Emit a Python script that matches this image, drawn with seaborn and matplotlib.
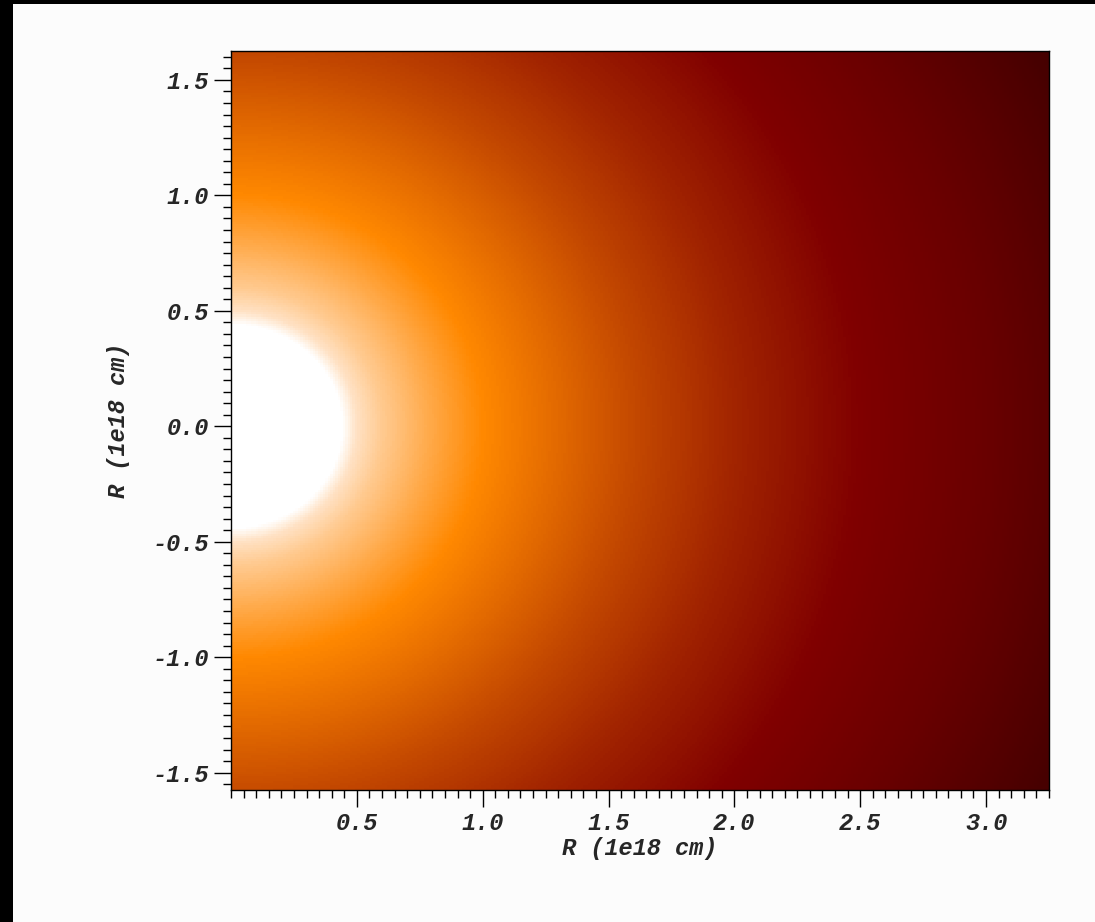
import numpy as np
import pandas as pd
import matplotlib
matplotlib.use("Agg")
import matplotlib.pyplot as plt
import seaborn as sns
from matplotlib.colors import LinearSegmentedColormap
from matplotlib.ticker import FixedLocator, MultipleLocator, FormatStrFormatter
from matplotlib.patches import Rectangle

# ---- data ----
# radial brightness profile (radius in 1e18 cm -> colour level)
profile_radius = [0.00, 0.44, 0.50, 0.60, 0.80, 1.00, 1.30, 1.60, 2.00, 2.50, 3.00, 3.70]
profile_level = [1.20, 1.00, 0.93, 0.86, 0.76, 0.667, 0.59, 0.51, 0.42, 0.33, 0.22, 0.02]
# colour map nodes
cmap_positions = [0.0, 0.33, 0.667, 0.93, 1.0]
cmap_colors = ["#3c0000", "#800000", "#ff8800", "#ffe1c3", "#ffffff"]
# axis ranges and ticks
x_range = [0.0, 3.25]
y_range = [-1.575, 1.625]
x_ticks = [0.5, 1.0, 1.5, 2.0, 2.5, 3.0]
y_ticks = [-1.5, -1.0, -0.5, 0.0, 0.5, 1.0, 1.5]
axis_label = "R (1e18 cm)"

# ---- build the field on a grid ----
nx, ny = 330, 320
x_edges = np.linspace(x_range[0], x_range[1], nx + 1)
y_edges = np.linspace(y_range[0], y_range[1], ny + 1)
xc = 0.5 * (x_edges[:-1] + x_edges[1:])
yc = 0.5 * (y_edges[:-1] + y_edges[1:])
XX, YY = np.meshgrid(xc, yc)
RR = np.hypot(XX, YY)
level = np.interp(RR, profile_radius, profile_level)
df = pd.DataFrame({"x": XX.ravel(), "y": YY.ravel(), "level": level.ravel()})

cmap = LinearSegmentedColormap.from_list("glow", list(zip(cmap_positions, cmap_colors)))

# ---- style ----
sns.set_style("ticks")
plt.rcParams["font.family"] = ["Liberation Mono", "DejaVu Sans Mono"]
plt.rcParams["font.weight"] = "bold"
plt.rcParams["font.style"] = "italic"
plt.rcParams["axes.unicode_minus"] = False

W, H = 1095, 922
fig = plt.figure(figsize=(W / 100, H / 100), dpi=100, facecolor="#fcfcfc")
ax = fig.add_axes([231 / W, 1 - 790 / H, (1049 - 231) / W, (790 - 51) / H])

sns.histplot(data=df, x="x", y="y", weights="level", bins=[x_edges, y_edges],
             cmap=cmap, vmin=0.0, vmax=1.0, thresh=None, cbar=False, ax=ax)

ax.set_xlim(x_range)
ax.set_ylim(y_range)

ax.xaxis.set_major_locator(FixedLocator(x_ticks))
ax.yaxis.set_major_locator(FixedLocator(y_ticks))
ax.xaxis.set_minor_locator(MultipleLocator(0.05))
ax.yaxis.set_minor_locator(MultipleLocator(0.05))
ax.xaxis.set_major_formatter(FormatStrFormatter("%.1f"))
ax.yaxis.set_major_formatter(FormatStrFormatter("%.1f"))

ax.tick_params(which="major", direction="out", length=12, width=1.0, color="black",
               labelsize=17, pad=4)
ax.tick_params(which="minor", direction="out", length=6, width=1.0, color="black")
for lab in ax.get_xticklabels() + ax.get_yticklabels():
    lab.set_fontweight("bold")
    lab.set_fontstyle("italic")

ax.set_xlabel(axis_label, fontsize=17, fontweight="bold", fontstyle="italic", labelpad=1)
ax.set_ylabel(axis_label, fontsize=17, fontweight="bold", fontstyle="italic", labelpad=16)

for sp in ax.spines.values():
    sp.set_color("black")
    sp.set_linewidth(1.0)

# black frame strips on left and top of the picture
fig.add_artist(Rectangle((0, 0), 13 / W, 1, transform=fig.transFigure,
                         facecolor="black", edgecolor="none"))
fig.add_artist(Rectangle((0, 1 - 4 / H), 1, 4 / H, transform=fig.transFigure,
                         facecolor="black", edgecolor="none"))

fig.savefig("out.png", dpi=100, facecolor=fig.get_facecolor())
